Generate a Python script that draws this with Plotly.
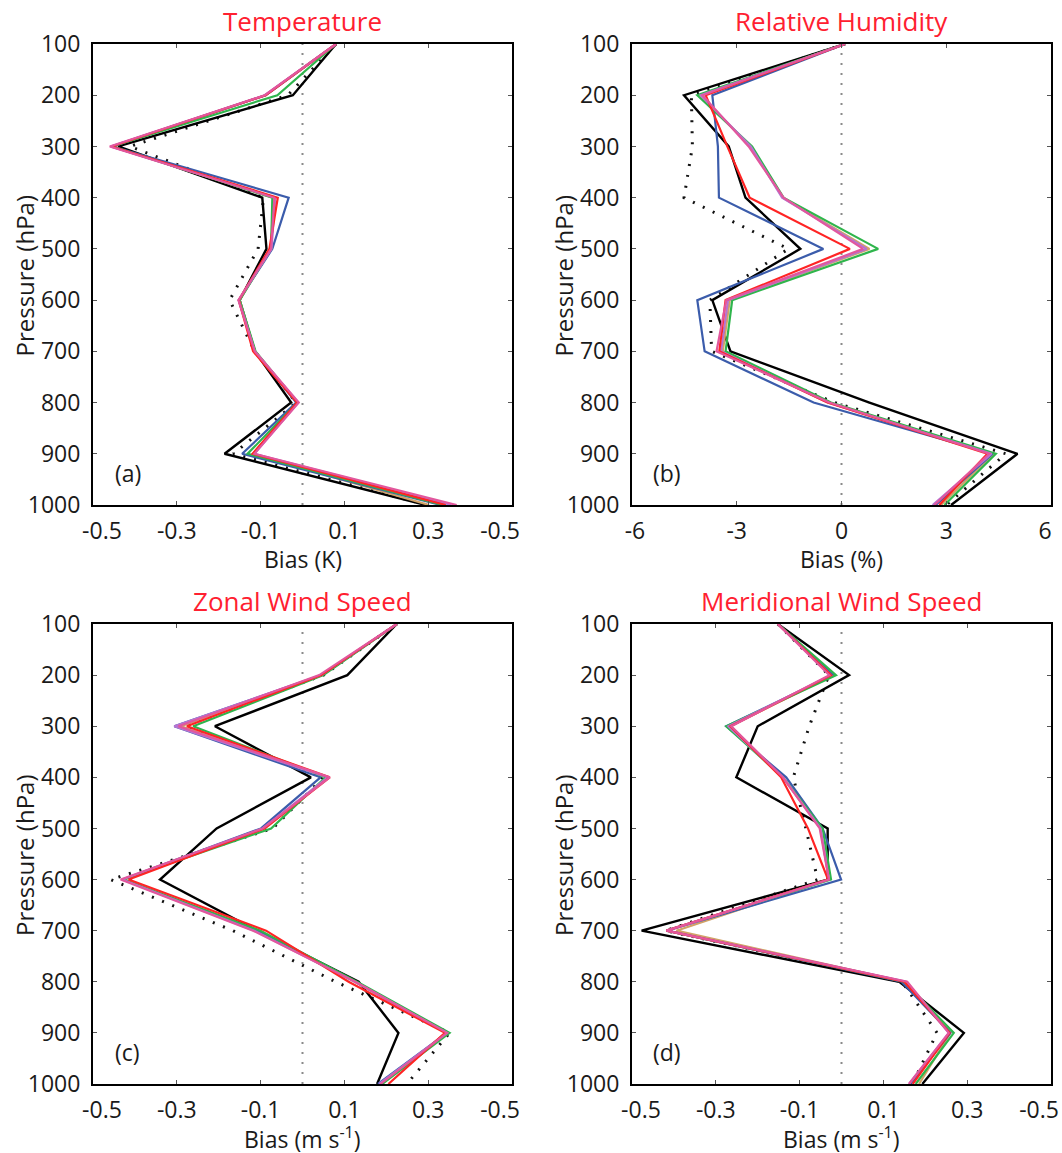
import plotly.graph_objects as go

# Pressure levels (hPa)
levels = [100, 200, 300, 400, 500, 600, 700, 800, 900, 1000]

# Series names (no legend in the original)
series_names = ["Exp1", "Exp2", "Exp3", "Exp4", "Exp5", "Exp6", "Exp7", "Exp8"]

# ---------------- (a) Temperature bias (K) ----------------
t_black   = [0.08, -0.023, -0.440, -0.096, -0.086, -0.150, -0.114, -0.027, -0.186, 0.294]
t_dotted  = [0.08, -0.035, -0.412, -0.093, -0.106, -0.174, -0.114, -0.015, -0.165, 0.298]
t_orange  = [0.08, -0.088, -0.455, -0.070, -0.075, -0.150, -0.113, -0.012, -0.119, 0.302]
t_blue    = [0.08, -0.088, -0.453, -0.033, -0.072, -0.152, -0.114, -0.015, -0.144, 0.330]
t_green   = [0.08, -0.060, -0.455, -0.072, -0.075, -0.150, -0.112, -0.012, -0.131, 0.335]
t_violet  = [0.08, -0.090, -0.458, -0.065, -0.074, -0.152, -0.114, -0.010, -0.115, 0.355]
t_red     = [0.08, -0.088, -0.456, -0.059, -0.079, -0.152, -0.118, -0.013, -0.119, 0.342]
t_magenta = [0.08, -0.090, -0.460, -0.067, -0.075, -0.153, -0.114, -0.009, -0.115, 0.368]

# ---------------- (b) Relative humidity bias (%) ----------------
h_black   = [0.1, -4.51, -3.23, -2.75, -1.18, -3.70, -3.18, 0.80, 5.04, 3.14]
h_dotted  = [0.1, -4.30, -4.27, -4.51, -1.52, -3.77, -3.72, -0.20, 4.71, 3.00]
h_orange  = [0.1, -4.05, -2.60, -1.68, 0.80, -3.20, -3.40, -0.35, 4.35, 2.85]
h_blue    = [0.1, -3.70, -3.54, -3.51, -0.52, -4.13, -3.92, -0.80, 4.33, 2.70]
h_green   = [0.1, -4.13, -2.56, -1.66, 1.05, -3.13, -3.32, -0.30, 4.42, 2.95]
h_violet  = [0.1, -4.03, -2.60, -1.70, 0.72, -3.25, -3.45, -0.40, 4.30, 2.61]
h_red     = [0.1, -3.89, -3.27, -2.63, 0.24, -3.32, -3.50, -0.40, 4.18, 2.80]
h_magenta = [0.1, -3.98, -2.66, -1.66, 0.62, -3.30, -3.58, -0.35, 4.23, 2.66]

# ---------------- (c) Zonal wind speed bias (m/s) ----------------
u_black   = [0.225, 0.107, -0.209, 0.020, -0.205, -0.340, -0.109, 0.134, 0.229, 0.178]
u_dotted  = [0.225, 0.050, -0.280, 0.050, -0.071, -0.458, -0.166, 0.079, 0.351, 0.249]
u_orange  = [0.225, 0.045, -0.290, 0.062, -0.090, -0.425, -0.110, 0.125, 0.343, 0.190]
u_blue    = [0.225, 0.047, -0.306, 0.043, -0.099, -0.430, -0.110, 0.126, 0.345, 0.180]
u_green   = [0.225, 0.050, -0.261, 0.055, -0.075, -0.428, -0.100, 0.130, 0.351, 0.190]
u_violet  = [0.225, 0.045, -0.306, 0.060, -0.095, -0.430, -0.115, 0.125, 0.345, 0.183]
u_red     = [0.225, 0.045, -0.276, 0.065, -0.091, -0.415, -0.087, 0.110, 0.340, 0.205]
u_magenta = [0.225, 0.040, -0.296, 0.065, -0.095, -0.434, -0.118, 0.126, 0.345, 0.186]

# ---------------- (d) Meridional wind speed bias (m/s) ----------------
v_black   = [-0.152, 0.018, -0.200, -0.251, -0.033, -0.033, -0.477, 0.138, 0.292, 0.193]
v_dotted  = [-0.152, -0.030, -0.077, -0.115, -0.085, -0.057, -0.420, 0.145, 0.228, 0.169]
v_orange  = [-0.152, -0.020, -0.265, -0.140, -0.050, -0.030, -0.394, 0.150, 0.260, 0.185]
v_blue    = [-0.152, -0.020, -0.275, -0.132, -0.045, -0.001, -0.418, 0.143, 0.260, 0.165]
v_green   = [-0.152, -0.013, -0.275, -0.140, -0.045, -0.025, -0.418, 0.150, 0.268, 0.177]
v_violet  = [-0.152, -0.025, -0.270, -0.140, -0.050, -0.030, -0.415, 0.155, 0.256, 0.161]
v_red     = [-0.152, -0.025, -0.265, -0.144, -0.080, -0.032, -0.418, 0.150, 0.258, 0.170]
v_magenta = [-0.152, -0.029, -0.263, -0.140, -0.052, -0.030, -0.418, 0.157, 0.256, 0.161]

# Tick values / labels (the original prints "-0.5" at both ends)
NB = "\u00a0"
wind_tickvals = [-0.5, -0.3, -0.1, 0.1, 0.3, 0.5]
wind_ticktext = [NB * 3 + "-0.5", "-0.3", "-0.1", "0.1", "0.3", "-0.5" + NB * 4]
rh_tickvals = [-6, -3, 0, 3, 6]
rh_ticktext = [NB + "-6", "-3", "0", "3", "6" + NB * 2]
p_tickvals = levels
p_ticktext = [str(p) for p in levels]

panel_titles = ["Temperature", "Relative Humidity", "Zonal Wind Speed", "Meridional Wind Speed"]
panel_letters = ["(a)", "(b)", "(c)", "(d)"]
x_titles = ["Bias (K)", "Bias (%)", "Bias (m s<sup>-1</sup>)", "Bias (m s<sup>-1</sup>)"]
y_title = "Pressure (hPa)"

panels = [
    [t_dotted, t_black, t_orange, t_blue, t_green, t_violet, t_red, t_magenta],
    [h_dotted, h_black, h_orange, h_blue, h_green, h_violet, h_red, h_magenta],
    [u_dotted, u_black, u_orange, u_blue, u_green, u_violet, u_red, u_magenta],
    [v_dotted, v_black, v_orange, v_blue, v_green, v_violet, v_red, v_magenta],
]
styles = [
    dict(color="#111111", width=3, dash="2px,9px"),
    dict(color="#000000", width=2.4),
    dict(color="#d2a266", width=2.2),
    dict(color="#3b5cab", width=2.2),
    dict(color="#2fb54c", width=2.2),
    dict(color="#b574d2", width=2.2),
    dict(color="#ff2424", width=2.2),
    dict(color="#e2579d", width=2.2),
]
names = ["Obs-ref", "Ctrl"] + series_names[:6]

W, H = 1062, 1153
col_px = [(93, 512), (632, 1051)]
row_px = [(44, 505), (624, 1084)]

FONT = "Open Sans, Noto Sans, sans-serif"

fig = go.Figure()
annotations = []
shapes = []

for i in range(4):
    r, c = divmod(i, 2)
    ax = "" if i == 0 else str(i + 1)
    xref, yref = "x" + ax, "y" + ax
    for vals, st, nm in zip(panels[i], styles, names):
        fig.add_trace(go.Scatter(x=vals, y=levels, mode="lines", line=st,
                                 name=nm, showlegend=False, xaxis=xref, yaxis=yref))
    x0, x1 = col_px[c]
    y0, y1 = row_px[r]
    xd = [x0 / W, x1 / W]
    yd = [1 - y1 / H, 1 - y0 / H]
    if i == 1:
        xr, tv, tt = [-6, 6], rh_tickvals, rh_ticktext
    else:
        xr, tv, tt = [-0.5, 0.5], wind_tickvals, wind_ticktext
    common = dict(showline=True, mirror="allticks", linecolor="black", linewidth=2,
                  ticks="inside", ticklen=4, tickwidth=1, tickcolor="#555555",
                  showgrid=False, zeroline=False, automargin=False,
                  ticklabeloverflow="allow",
                  tickfont=dict(family=FONT, size=23, color="#1a1a1a"))
    fig.layout["xaxis" + ax] = dict(domain=xd, range=xr, tickvals=tv, ticktext=tt,
                                    anchor=yref, ticklabelstandoff=4, **common)
    fig.layout["yaxis" + ax] = dict(domain=yd, range=[1000, 100], tickvals=p_tickvals,
                                    ticktext=p_ticktext, anchor=xref,
                                    ticklabelstandoff=6, **common)
    # zero reference line
    shapes.append(dict(type="line", xref=xref, yref=yref + " domain", x0=0, x1=0,
                       y0=0, y1=1, line=dict(color="#8a8a8a", width=2, dash="2px,8px"),
                       layer="below"))
    cx = (x0 + x1) / 2
    # panel title
    annotations.append(dict(text=panel_titles[i], xref="paper", yref="paper",
                            x=cx / W, y=1 - (y0 - 23) / H, showarrow=False,
                            xanchor="center", yanchor="middle",
                            font=dict(family=FONT, size=26, color="#ff2030")))
    # x-axis title
    annotations.append(dict(text=x_titles[i], xref="paper", yref="paper",
                            x=cx / W, y=1 - (y1 + 54) / H, showarrow=False,
                            xanchor="center", yanchor="middle",
                            font=dict(family=FONT, size=23, color="#1a1a1a")))
    # y-axis title
    annotations.append(dict(text=y_title, xref="paper", yref="paper",
                            x=(x0 - 69) / W, y=1 - ((y0 + y1) / 2 + 2) / H, showarrow=False,
                            textangle=-90, xanchor="center", yanchor="middle",
                            font=dict(family=FONT, size=24, color="#1a1a1a")))
    # panel letter
    annotations.append(dict(text=panel_letters[i], xref=xref + " domain",
                            yref=yref + " domain", x=0.083, y=0.069, showarrow=False,
                            xanchor="center", yanchor="middle",
                            font=dict(family=FONT, size=23, color="#1a1a1a")))

fig.update_layout(width=W, height=H, margin=dict(l=0, r=0, t=0, b=0, autoexpand=False),
                  paper_bgcolor="white", plot_bgcolor="white",
                  annotations=annotations, shapes=shapes, showlegend=False)

fig.write_html("out.html", config={"displayModeBar": False},
               post_script=["document.body.style.margin='0';document.body.style.padding='0';"])
